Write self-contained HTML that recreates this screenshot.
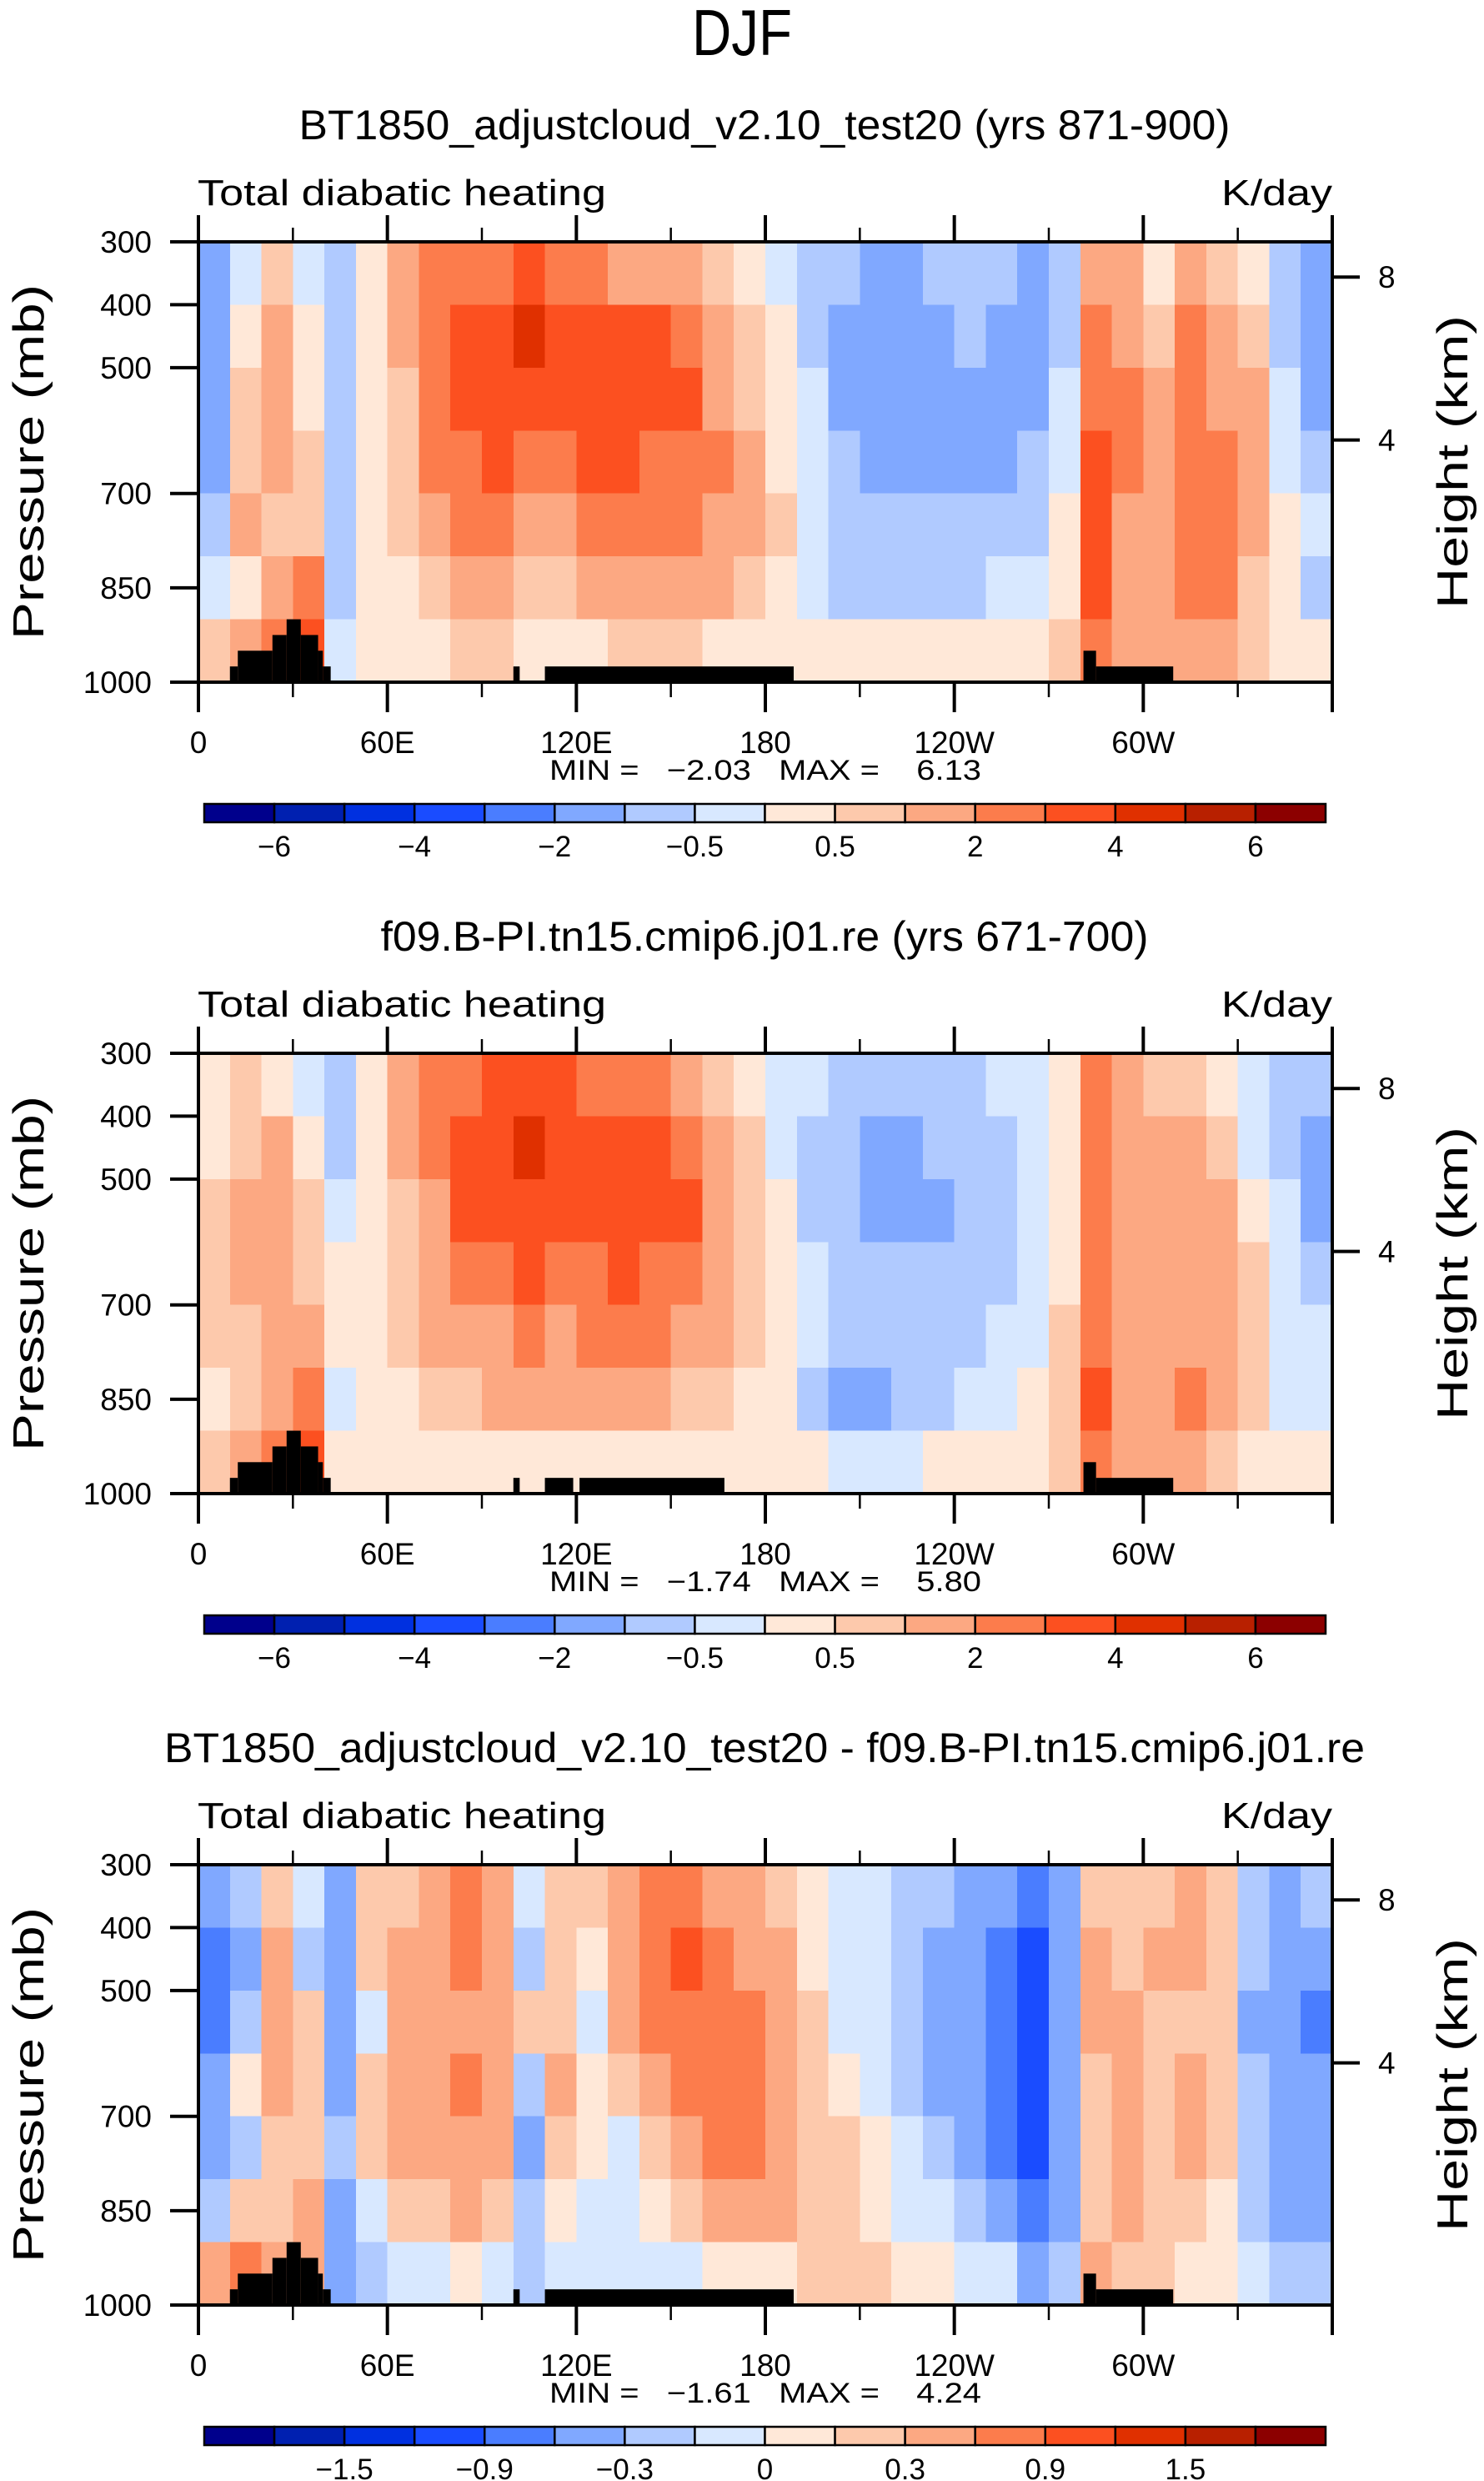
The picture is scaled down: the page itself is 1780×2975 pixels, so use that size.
<!DOCTYPE html>
<html><head><meta charset="utf-8">
<style>
html,body{margin:0;padding:0;background:#fff;}
svg{display:block;}
text{font-family:"Liberation Sans",sans-serif;fill:#000;}
</style></head>
<body>
<svg id="fig" width="1780" height="2975" viewBox="0 0 1780 2975" xmlns="http://www.w3.org/2000/svg">
<text x="890" y="66" text-anchor="middle" font-size="78" textLength="120" lengthAdjust="spacingAndGlyphs">DJF</text>
</svg>
<script>
// ---------- data ----------
const lonBins = [0,10,20,30,40,50,60,70,80,90,100,110,120,130,140,150,160,170,180,190,200,210,220,230,240,250,260,270,280,290,300,310,320,330,340,350];
const presBands = [300,400,500,600,700,800,900,1000];
const xTickLabels = ["0","60E","120E","180","120W","60W"];
const xTickLons = [0,60,120,180,240,300];
const yTickLabels = ["300","400","500","700","850","1000"];
const yTickPres = [300,400,500,700,850,1000];
const kmTickLabels = ["8","4"];
const kmTickPres = [356,615];
const levels1 = [-6,-5,-4,-3,-2,-1,-0.5,0,0.5,1,2,3,4,5,6];
const levelLabels1 = ["−6","−4","−2","−0.5","0.5","2","4","6"];
const levelLabelIdx1 = [0,2,4,6,8,10,12,14];
const levels3 = [-1.8,-1.5,-1.2,-0.9,-0.6,-0.3,-0.15,0,0.15,0.3,0.6,0.9,1.2,1.5,1.8];
const levelLabels3 = ["−1.5","−0.9","−0.3","0","0.3","0.9","1.5"];
const levelLabelIdx3 = [1,3,5,7,9,11,13];
const palette = ["#00008c","#0020b0","#0030e0","#1a4cff","#4a7dff","#80a8ff","#b0caff","#d8e8ff","#ffe8d8","#fdc9ac","#fca882","#fc7c4c","#fc5020","#e03000","#b82000","#8c0000"];
// each row: one 10-degree longitude column, values for bands 300-400 ... 900-1000
const field1 = [
[-1.5,-1.5,-1.5,-1.5,-0.75,-0.25,0.75],[-0.25,0.25,0.75,0.75,1.5,0.25,1.5],[0.75,1.5,1.5,1.5,0.75,1.5,2.5],[-0.25,0.25,0.25,0.75,0.75,2.5,3.5],
[-0.75,-0.75,-0.75,-0.75,-0.75,-0.75,-0.25],[0.25,0.25,0.25,0.25,0.25,0.25,0.25],[1.5,1.5,0.75,0.75,0.75,0.25,0.25],[2.5,2.5,2.5,2.5,1.5,0.75,0.25],
[2.5,3.5,3.5,2.5,2.5,1.5,0.75],[2.5,3.5,3.5,3.5,2.5,1.5,0.75],[3.5,4.5,3.5,2.5,1.5,0.75,0.25],[2.5,3.5,3.5,2.5,1.5,0.75,0.25],
[2.5,3.5,3.5,3.5,2.5,1.5,0.25],[1.5,3.5,3.5,3.5,2.5,1.5,0.75],[1.5,3.5,3.5,2.5,2.5,1.5,0.75],[1.5,2.5,3.5,2.5,2.5,1.5,0.75],
[0.75,1.5,1.5,2.5,1.5,1.5,0.25],[0.25,0.75,0.75,1.5,1.5,0.75,0.25],[-0.25,0.25,0.25,0.25,0.75,0.25,0.25],[-0.75,-0.75,-0.25,-0.25,-0.25,-0.25,0.25],
[-0.75,-1.5,-1.5,-0.75,-0.75,-0.75,0.25],[-1.5,-1.5,-1.5,-1.5,-0.75,-0.75,0.25],[-1.5,-1.5,-1.5,-1.5,-0.75,-0.75,0.25],[-0.75,-1.5,-1.5,-1.5,-0.75,-0.75,0.25],
[-0.75,-0.75,-1.5,-1.5,-0.75,-0.75,0.25],[-0.75,-1.5,-1.5,-1.5,-0.75,-0.25,0.25],[-1.5,-1.5,-1.5,-0.75,-0.75,-0.25,0.25],[-0.75,-0.75,-0.25,-0.25,0.25,0.25,0.75],
[1.5,2.5,2.5,3.5,3.5,3.5,2.5],[1.5,1.5,2.5,2.5,1.5,1.5,1.5],[0.25,0.75,1.5,1.5,1.5,1.5,1.5],[1.5,2.5,2.5,2.5,2.5,2.5,1.5],
[0.75,1.5,1.5,2.5,2.5,2.5,1.5],[0.25,0.75,1.5,1.5,1.5,0.75,0.75],[-0.75,-0.75,-0.25,-0.25,0.25,0.25,0.25],[-1.5,-1.5,-1.5,-0.75,-0.25,-0.75,0.25]];
const field2 = [
[0.25,0.25,0.75,0.75,0.75,0.25,0.75],[0.75,0.75,1.5,1.5,0.75,0.75,1.5],[0.25,1.5,1.5,1.5,1.5,1.5,2.5],[-0.25,0.25,0.75,0.75,1.5,2.5,3.5],
[-0.75,-0.75,-0.25,0.25,0.25,-0.25,0.25],[0.25,0.25,0.25,0.25,0.25,0.25,0.25],[1.5,1.5,0.75,0.75,0.75,0.25,0.25],[2.5,2.5,1.5,1.5,1.5,0.75,0.25],
[2.5,3.5,3.5,2.5,1.5,0.75,0.25],[3.5,3.5,3.5,2.5,1.5,1.5,0.25],[3.5,4.5,3.5,3.5,2.5,1.5,0.25],[3.5,3.5,3.5,2.5,1.5,1.5,0.25],
[2.5,3.5,3.5,2.5,2.5,1.5,0.25],[2.5,3.5,3.5,3.5,2.5,1.5,0.25],[2.5,3.5,3.5,2.5,2.5,1.5,0.25],[1.5,2.5,3.5,2.5,1.5,0.75,0.25],
[0.75,1.5,1.5,1.5,1.5,0.75,0.25],[0.25,0.75,0.75,0.75,0.75,0.25,0.25],[-0.25,-0.25,0.25,0.25,0.25,0.25,0.25],[-0.25,-0.75,-0.75,-0.25,-0.25,-0.75,0.25],
[-0.75,-0.75,-0.75,-0.75,-0.75,-1.5,-0.25],[-0.75,-1.5,-1.5,-0.75,-0.75,-1.5,-0.25],[-0.75,-1.5,-1.5,-0.75,-0.75,-0.75,-0.25],[-0.75,-0.75,-1.5,-0.75,-0.75,-0.75,0.25],
[-0.75,-0.75,-0.75,-0.75,-0.75,-0.25,0.25],[-0.25,-0.75,-0.75,-0.75,-0.25,-0.25,0.25],[-0.25,-0.25,-0.25,-0.25,-0.25,0.25,0.25],[0.25,0.25,0.25,0.25,0.75,0.75,0.75],
[2.5,2.5,2.5,2.5,2.5,3.5,2.5],[1.5,1.5,1.5,1.5,1.5,1.5,1.5],[0.75,1.5,1.5,1.5,1.5,1.5,1.5],[0.75,1.5,1.5,1.5,1.5,2.5,1.5],
[0.25,0.75,1.5,1.5,1.5,1.5,0.75],[-0.25,-0.25,0.25,0.75,0.75,0.75,0.25],[-0.75,-0.75,-0.25,-0.25,-0.25,-0.25,0.25],[-0.75,-1.5,-1.5,-0.75,-0.25,-0.25,0.25]];
const field3 = [
[-0.45,-0.75,-0.75,-0.45,-0.45,-0.2,0.45],[-0.2,-0.45,-0.2,0.07,-0.2,0.2,0.75],[0.2,0.45,0.45,0.45,0.2,0.2,0.45],[-0.07,-0.2,0.2,0.2,0.2,0.45,0.45],
[-0.45,-0.45,-0.45,-0.45,-0.2,-0.45,-0.45],[0.2,0.2,-0.07,0.2,0.2,-0.07,-0.2],[0.2,0.45,0.45,0.45,0.45,0.2,-0.07],[0.45,0.45,0.45,0.45,0.45,0.2,-0.07],
[0.75,0.75,0.45,0.75,0.45,0.45,0.07],[0.45,0.45,0.45,0.45,0.45,0.2,-0.07],[-0.07,-0.2,0.2,-0.2,-0.45,-0.2,-0.2],[0.2,0.2,0.2,0.45,0.2,0.07,-0.07],
[0.2,0.07,-0.07,0.07,0.07,-0.07,-0.07],[0.45,0.45,0.45,0.2,-0.07,-0.07,-0.07],[0.75,0.75,0.75,0.45,0.2,0.07,-0.07],[0.75,1.0,0.75,0.75,0.45,0.2,-0.07],
[0.45,0.75,0.75,0.75,0.75,0.45,0.07],[0.45,0.45,0.75,0.75,0.75,0.45,0.07],[0.2,0.45,0.45,0.45,0.45,0.45,0.07],[0.07,0.07,0.2,0.2,0.2,0.2,0.2],
[-0.07,-0.07,-0.07,0.07,0.2,0.2,0.2],[-0.07,-0.07,-0.07,-0.07,0.07,0.07,0.2],[-0.2,-0.2,-0.2,-0.2,-0.07,-0.07,0.07],[-0.2,-0.45,-0.45,-0.45,-0.2,-0.07,0.07],
[-0.45,-0.45,-0.45,-0.45,-0.45,-0.2,-0.07],[-0.45,-0.75,-0.75,-0.75,-0.75,-0.45,-0.07],[-0.75,-1.0,-1.0,-1.0,-1.0,-0.75,-0.45],[-0.45,-0.45,-0.45,-0.45,-0.45,-0.45,-0.2],
[0.2,0.45,0.45,0.2,0.2,0.2,0.45],[0.2,0.2,0.45,0.45,0.45,0.45,0.2],[0.2,0.45,0.2,0.2,0.2,0.2,0.2],[0.45,0.45,0.2,0.45,0.45,0.2,0.07],
[0.2,0.2,0.2,0.2,0.2,0.07,0.07],[-0.2,-0.2,-0.45,-0.2,-0.2,-0.2,-0.07],[-0.45,-0.45,-0.45,-0.45,-0.45,-0.45,-0.2],[-0.2,-0.45,-0.75,-0.45,-0.45,-0.45,-0.2]];
// orography: [lonStart, lonEnd, top pressure]
const oroLonStart1 = [10,12.5,23.5,28,32.5,38,39.5,100,110,281,285];
const oroLonEnd1   = [12.5,23.5,28,32.5,38,39.5,42,102,189,285,309.5];
const oroTop1      = [975,950,925,900,925,950,975,975,975,950,975];
const oroLonStart2 = [10,12.5,23.5,28,32.5,38,39.5,100,110,121,281,285];
const oroLonEnd2   = [12.5,23.5,28,32.5,38,39.5,42,102,119,167,285,309.5];
const oroTop2      = [975,950,925,900,925,950,975,975,975,975,950,975];
const titles = ["BT1850_adjustcloud_v2.10_test20 (yrs 871-900)","f09.B-PI.tn15.cmip6.j01.re (yrs 671-700)","BT1850_adjustcloud_v2.10_test20 - f09.B-PI.tn15.cmip6.j01.re"];
const titleWidths = [1117,921,1440];
const minVals = ["−2.03","−1.74","−1.61"];
const maxVals = ["6.13","5.80","4.24"];

// ---------- drawing ----------
const NS = "http://www.w3.org/2000/svg";
const svg = document.getElementById("fig");
function mk(tag, attrs, parent){ const e=document.createElementNS(NS,tag); for(const k in attrs) e.setAttribute(k,attrs[k]); (parent||svg).appendChild(e); return e; }
const X0=238, X1=1598, Y0=290, Y1=818;
function xScale(lon){ return X0 + lon/360*(X1-X0); }
function yScale(p){ return Y0 + (p-300)/700*(Y1-Y0); }
function colorFor(v, lev){ let i=0; while(i<lev.length && v>=lev[i]) i++; return palette[i]; }

const fields=[field1,field2,field3];
const levs=[levels1,levels1,levels3];
const oros=[[oroLonStart1,oroLonEnd1,oroTop1],[oroLonStart2,oroLonEnd2,oroTop2],[oroLonStart1,oroLonEnd1,oroTop1]];
const PANEL_DY = 973;

for(let p=0;p<3;p++){
  const dy = p*PANEL_DY;
  const g = mk("g",{transform:"translate(0,"+dy+")"});
  
  
  const t = mk("text",{x:917,y:167,"text-anchor":"middle","font-size":50,textLength:titleWidths[p],lengthAdjust:"spacingAndGlyphs"},g);
  t.textContent = titles[p];
  
  
  const l = mk("text",{x:237,y:246,"font-size":44,textLength:490,lengthAdjust:"spacingAndGlyphs"},g);
  l.textContent = "Total diabatic heating";
  
  
  const u = mk("text",{x:1465,y:246,"font-size":44,textLength:133,lengthAdjust:"spacingAndGlyphs"},g);
  u.textContent = "K/day";
  
  

  const fg = mk("g",{"shape-rendering":"crispEdges"},g);
  
  
  const f = fields[p];
  for(let i=0;i<lonBins.length;i++){
    for(let j=0;j<presBands.length-1;j++){
      const x=xScale(lonBins[i]), x2=xScale(lonBins[i]+10);
      const y=yScale(presBands[j]), y2=yScale(presBands[j+1]);
      const r = mk("rect",{x:x,y:y,width:x2-x+0.6,height:y2-y+0.6,fill:colorFor(f[i][j],levs[p])},fg);
      
      
    }
  }
  const o = oros[p];
  for(let k=0;k<o[0].length;k++){
    const x=xScale(o[0][k]), x2=xScale(o[1][k]);
    const y=yScale(o[2][k]);
    const r = mk("rect",{x:x,y:y,width:x2-x,height:Y1-y,fill:"#000"},g);
    
    
  }
  const fr = mk("rect",{x:X0,y:Y0,width:X1-X0,height:Y1-Y0,fill:"none",stroke:"#000","stroke-width":4},g);
  
  
  for(let lon=0;lon<=360;lon+=30){
    const major = lon%60===0;
    const x=xScale(lon);
    const tb = mk("line",{x1:x,y1:Y1,x2:x,y2:Y1+(major?36:18),stroke:"#000","stroke-width":major?4:2.5},g);
    
    
    const tt = mk("line",{x1:x,y1:Y0,x2:x,y2:Y0-(major?32:17),stroke:"#000","stroke-width":major?4:2.5},g);
    
    
  }
  for(let k=0;k<xTickLabels.length;k++){
    const tx = mk("text",{x:xScale(xTickLons[k]),y:903,"text-anchor":"middle","font-size":37},g);
    tx.textContent = xTickLabels[k];
    
    
  }
  for(let k=0;k<yTickLabels.length;k++){
    const y=yScale(yTickPres[k]);
    const tl = mk("line",{x1:X0,y1:y,x2:X0-34,y2:y,stroke:"#000","stroke-width":4},g);
    
    
    const ty = mk("text",{x:182,y:y+13,"text-anchor":"end","font-size":37},g);
    ty.textContent = yTickLabels[k];
    
    
  }
  for(let k=0;k<kmTickLabels.length;k++){
    const y=yScale(kmTickPres[k]);
    const tl = mk("line",{x1:X1,y1:y,x2:X1+33,y2:y,stroke:"#000","stroke-width":4},g);
    
    
    const ty = mk("text",{x:1653,y:y+13,"font-size":37},g);
    ty.textContent = kmTickLabels[k];
    
    
  }
  const yt = mk("text",{x:0,y:0,"text-anchor":"middle","font-size":52,textLength:426,lengthAdjust:"spacingAndGlyphs",transform:"translate(52,554) rotate(-90)"},g);
  yt.textContent = "Pressure (mb)";
  
  
  const yt2 = mk("text",{x:0,y:0,"text-anchor":"middle","font-size":52,textLength:352,lengthAdjust:"spacingAndGlyphs",transform:"translate(1760,554) rotate(-90)"},g);
  yt2.textContent = "Height (km)";
  
  
  const mm = mk("text",{x:659,y:935,"font-size":34,style:"white-space:pre",textLength:518,lengthAdjust:"spacingAndGlyphs"},g);
  mm.textContent = "MIN =   "+minVals[p]+"   MAX =    "+maxVals[p];
  
  

  const CB0=245, CB1=1590, CBY=964, CBH=22;
  const cw=(CB1-CB0)/16;
  const cb = mk("g",{},g);
  
  
  for(let k=0;k<16;k++){
    const r = mk("rect",{x:CB0+k*cw,y:CBY,width:cw,height:CBH,fill:palette[k],stroke:"#000","stroke-width":2.5},cb);
    
    
  }
  const labs = p<2?levelLabels1:levelLabels3;
  const idx = p<2?levelLabelIdx1:levelLabelIdx3;
  for(let k=0;k<labs.length;k++){
    const tx = mk("text",{x:CB0+(idx[k]+1)*cw,y:1027,"text-anchor":"middle","font-size":35},cb);
    tx.textContent = labs[k];
    
    
  }
}
</script>
</body></html>
